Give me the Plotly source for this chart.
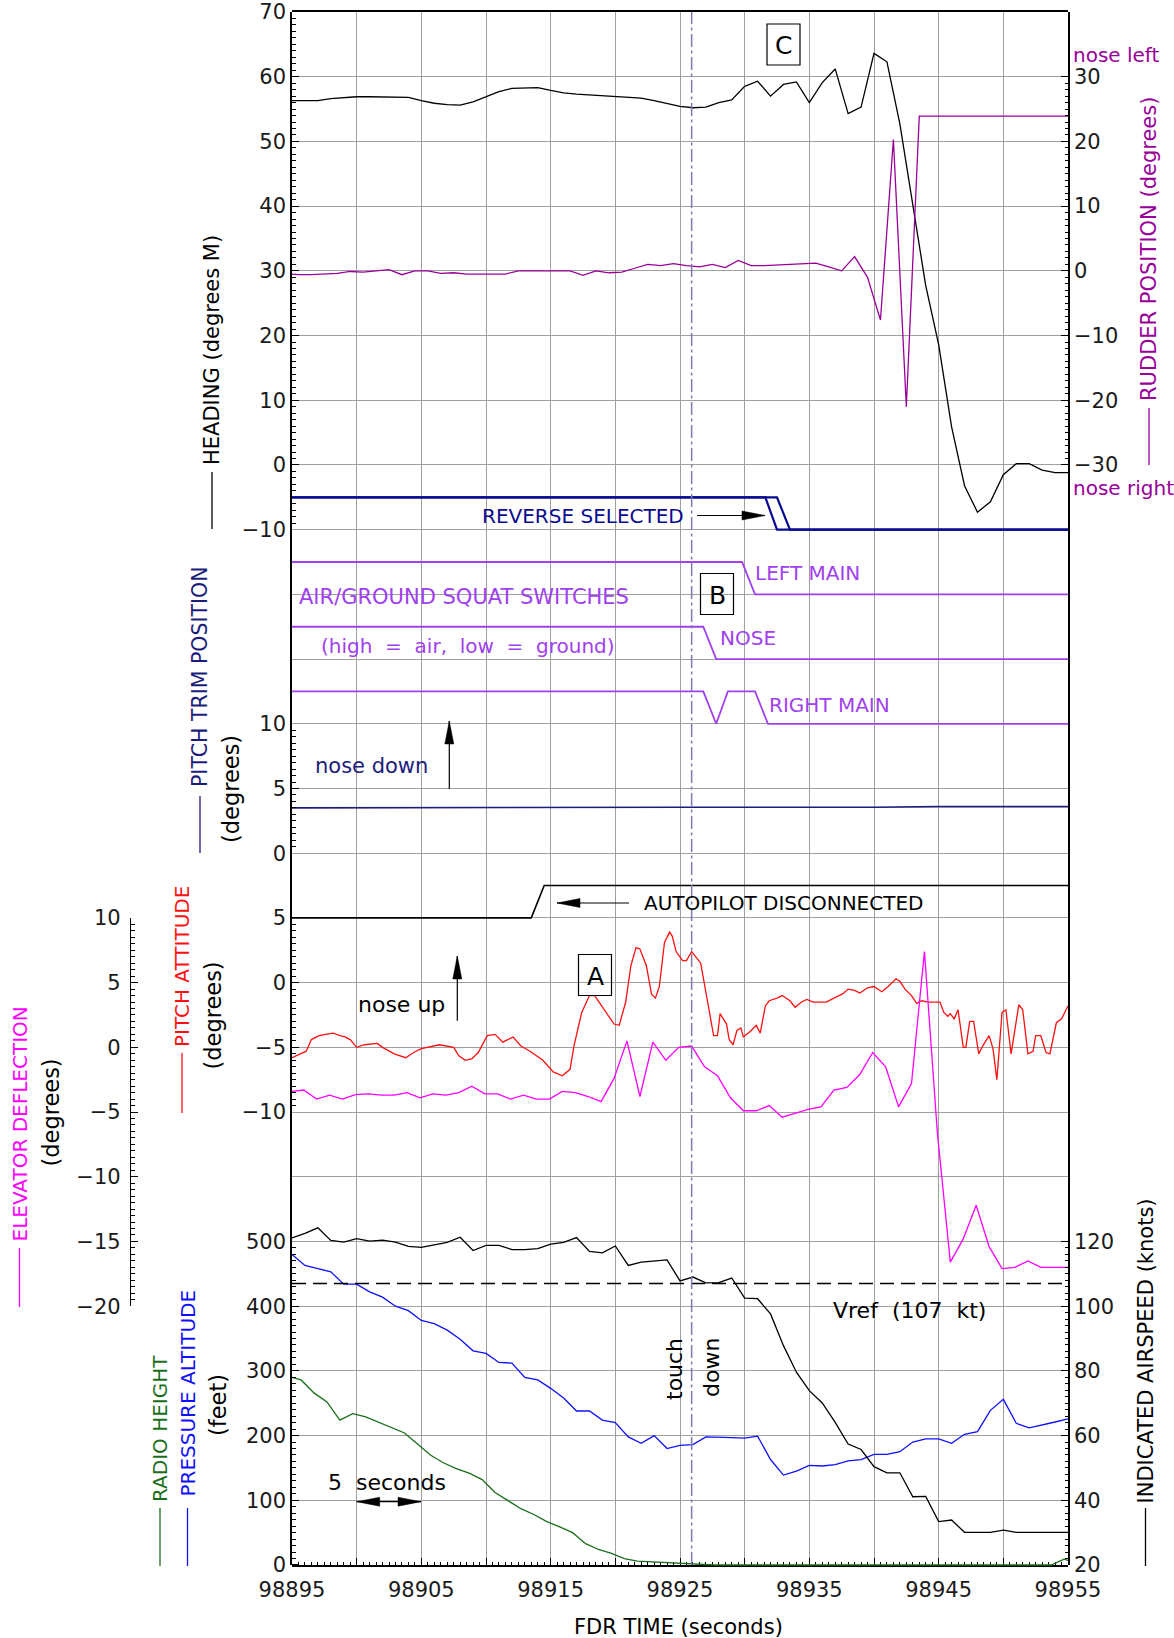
import math
import plotly.graph_objects as go

# ---------------- data ----------------
T_START, T_END = 98895, 98955
touchdown_t = 98925.9
vref_kt = 107

heading_t = [98895 + i for i in range(61)]
heading_deg = [56.3, 56.3, 56.3, 56.6, 56.8, 56.9, 56.9, 56.9, 56.8, 56.8,
               56.3, 55.9, 55.7, 55.6, 56.1, 56.9, 57.7, 58.2, 58.3, 58.3,
               57.9, 57.5, 57.3, 57.2, 57.0, 56.9, 56.8, 56.7, 56.3, 55.8,
               55.4, 55.2, 55.3, 56.0, 56.4, 58.5, 59.3, 57.0, 58.8, 59.2,
               56.0, 59.1, 61.2, 54.3, 55.3, 63.6, 62.3, 52.7, 39.9, 27.7,
               18.6, 5.9, -3.2, -7.3, -5.7, -1.5, 0.2, 0.2, -0.8, -1.2, -1.2]

rudder_t = [98895] + [98895.5 + i for i in range(60)] + [98955]
rudder_deg = [-0.5,
              -0.6, -0.6, -0.5, -0.4, -0.1, -0.2, 0.0, 0.2, -0.6, 0.0,
              0.0, -0.4, -0.3, -0.5, -0.5, -0.5, -0.5, 0.0, 0.0, 0.0,
              0.0, 0.0, -0.7, 0.0, -0.3, -0.2, 0.4, 1.0, 0.8, 1.1,
              0.8, 0.6, 1.0, 0.5, 1.6, 0.8, 0.8, 0.9, 0.9, 1.1,
              1.2, 0.6, 0.0, 2.2, -1.0, -7.6, 20.3, -21.0, 23.9, 23.9,
              23.9, 23.9, 23.9, 23.9, 23.9, 23.9, 23.9, 23.9, 23.9, 23.9,
              23.9]

# discrete states: 1 = high, 0 = low
reverse1_t = [98895, 98931.6, 98932.5, 98955]
reverse1_state = [1, 1, 0, 0]
reverse2_t = [98895, 98932.5, 98933.5, 98955]
reverse2_state = [1, 1, 0, 0]

left_main_t = [98895, 98929.8, 98930.8, 98955]
left_main_state = [1, 1, 0, 0]
nose_gear_t = [98895, 98926.8, 98927.8, 98955]
nose_gear_state = [1, 1, 0, 0]
right_main_t = [98895, 98926.8, 98927.8, 98928.7, 98930.8, 98931.8, 98955]
right_main_state = [1, 1, 0, 1, 1, 0, 0]

trim_t = [98895, 98910, 98925, 98940, 98945, 98955]
trim_deg = [3.5, 3.55, 3.55, 3.55, 3.6, 3.6]

autopilot_t = [98895, 98913.5, 98914.5, 98955]
autopilot_state = [0, 0, 1, 1]

pitch_t = [98895.0, 98895.5, 98896.1, 98896.5, 98897.1, 98897.6, 98898.2, 98898.7,
           98899.1, 98899.5, 98900.0, 98900.6, 98901.6, 98902.0, 98902.9, 98903.8,
           98904.4, 98905.0, 98906.4, 98907.5, 98907.9, 98908.4, 98908.9, 98909.4,
           98910.1, 98910.7, 98911.3, 98912.1, 98912.7, 98913.4, 98914.4, 98915.2,
           98915.9, 98916.5, 98916.8, 98917.4, 98918.0, 98918.4, 98918.9, 98919.3,
           98919.9, 98920.3, 98920.8, 98921.2, 98921.6, 98921.9, 98922.4, 98922.8,
           98923.1, 98923.4, 98923.8, 98924.2, 98924.4, 98924.7, 98925.2, 98925.5,
           98925.9, 98926.3, 98926.6, 98927.1, 98927.6, 98927.9, 98928.1, 98928.6,
           98928.8, 98929.1, 98929.4, 98929.7, 98929.9, 98930.4, 98930.9, 98931.2,
           98931.6, 98931.9, 98932.5, 98932.9, 98933.5, 98933.9, 98934.4, 98934.8,
           98935.3, 98936.3, 98936.7, 98937.3, 98937.6, 98938.0, 98938.5, 98938.9,
           98939.5, 98940.0, 98940.6, 98941.1, 98941.7, 98942.0, 98942.4, 98942.9,
           98943.3, 98943.7, 98944.2, 98944.6, 98945.1, 98945.4, 98945.7, 98945.9,
           98946.2, 98946.5, 98946.9, 98947.1, 98947.4, 98947.7, 98948.1, 98948.4,
           98948.9, 98949.2, 98949.5, 98949.9, 98950.2, 98950.6, 98950.9, 98951.2,
           98951.5, 98951.9, 98952.3, 98952.5, 98952.9, 98953.3, 98953.6, 98954.1,
           98954.5, 98955.0]
pitch_deg = [-5.8, -5.6, -5.3, -4.4, -4.1, -4.0, -3.9, -4.1,
             -4.2, -4.4, -5.0, -4.8, -4.7, -5.0, -5.5, -5.8,
             -5.4, -5.1, -4.8, -5.0, -5.65, -6.0, -5.9, -5.4,
             -4.1, -4.0, -4.6, -4.2, -4.9, -5.3, -6.0, -6.9,
             -7.2, -6.7, -4.9, -2.3, -1.0, -1.0, -1.75, -2.4,
             -3.2, -3.3, -1.5, 1.3, 2.7, 2.6, 1.3, -0.9,
             -1.2, -0.3, 3.1, 3.9, 3.6, 2.4, 1.7, 1.7,
             2.4, 1.9, 1.5, -1.3, -4.1, -4.1, -2.4, -3.2,
             -4.4, -4.8, -3.7, -3.5, -4.2, -3.8, -3.3, -3.9,
             -1.8, -1.4, -1.2, -1.0, -1.4, -1.9, -1.5, -1.3,
             -1.5, -1.5, -1.3, -1.0, -0.85, -0.5, -0.6, -0.8,
             -0.4, -0.3, -0.7, -0.3, 0.3, 0.1, -0.5, -1.0,
             -1.6, -1.4, -1.5, -1.5, -1.5, -2.3, -2.6, -2.4,
             -2.8, -2.1, -5.0, -5.0, -3.0, -3.0, -5.5, -4.9,
             -4.1, -5.1, -7.5, -2.3, -2.1, -5.5, -3.5, -1.7,
             -2.1, -5.5, -5.3, -4.1, -4.1, -5.4, -5.5, -3.1,
             -2.8, -1.8]

elev_t = [98895] + [98895.9 + i for i in range(60)] + [98955]
elev_deg = [-3.4,
            -3.3, -4.0, -3.7, -4.0, -3.65, -3.6, -3.7, -3.7, -3.5, -3.9,
            -3.6, -3.7, -3.5, -3.0, -3.6, -3.6, -4.0, -3.7, -4.0, -4.0,
            -3.4, -3.5, -3.8, -4.2, -2.4, 0.5, -3.8, 0.4, -1.0, 0.0,
            0.1, -1.5, -2.2, -3.9, -4.9, -4.9, -4.5, -5.4, -5.1, -4.8,
            -4.6, -3.3, -3.1, -2.1, -0.4, -1.5, -4.6, -2.8, 7.4, -6.6,
            -16.6, -14.8, -12.2, -15.4, -17.1, -17.0, -16.5, -17.0, -17.0, -17.0,
            -17.0]

ias_t = [98895 + i for i in range(61)]
ias_kt = [121.1, 122.5, 124.2, 120.3, 119.8, 120.9, 120.1, 120.4, 119.8, 118.5,
          118.2, 119.0, 119.7, 121.3, 117.2, 118.8, 118.8, 117.5, 117.5, 117.8,
          119.2, 119.7, 121.2, 116.9, 116.5, 118.6, 112.6, 113.6, 114.0, 114.3,
          107.8, 109.0, 107.2, 107.3, 108.7, 102.5, 102.3, 97.6, 87.8, 79.6,
          73.9, 70.1, 64.1, 57.4, 55.7, 50.4, 48.5, 48.5, 41.1, 41.2,
          33.4, 33.9, 30.1, 30.1, 30.1, 30.8, 30.1, 30.1, 30.1, 30.1,
          30.1]

palt_t = [98895 + i for i in range(61)]
palt_ft = [480, 463, 458, 453, 434, 434, 422, 414, 400, 393,
           378, 373, 363, 349, 331, 327, 313, 312, 290, 286,
           273, 258, 238, 238, 224, 220, 198, 188, 200, 180,
           185, 186, 198, 198, 197, 196, 199, 163, 139, 145,
           154, 153, 155, 161, 163, 171, 171, 175, 190, 195,
           195, 188, 202, 206, 239, 256, 219, 212, 216, 221,
           226]

rh_t = [98895] + [98895.7 + i for i in range(60)] + [98955]
rh_ft = [290,
         286, 266, 252, 224, 234, 229, 221, 213, 204, 187,
         170, 158, 149, 142, 132, 112, 99, 87, 78, 67,
         59, 50, 33, 24, 18, 10, 6, 5, 4, 3,
         1, 0, 0, 0, 0, 0, 0, 0, 0, 0,
         0, 0, 0, 0, 0, 0, 0, 0, 0, 0,
         0, 0, 0, 0, 0, 0, 0, 0, 0, 9,
         7]

x_tick_vals = [98895 + 5 * i for i in range(13)]
x_tick_text = [str(v) if i % 2 == 0 else '' for i, v in enumerate(x_tick_vals)]

# ---------------- geometry helpers ----------------
W, H = 1174, 1638
PX_L, PX_R = 292, 1068
PY_TOP, PY_BOT = 12, 1565
GU = (PY_BOT - PY_TOP) / 24.0
FONT = 'DejaVu Sans'
TF = dict(family=FONT, size=21, color='#1a1a1a')
NB = '\u00a0'


def xp(px):
    return px / W


def yp(py):
    return 1 - py / H


def gy(g):
    return yp(PY_BOT - GU * g)


XD = [xp(PX_L), xp(PX_R)]

NAVY = '#0a0a90'
TRIM = '#1c1c7c'
VIOLET = '#a040f0'
PURPLE = '#990099'
RED = '#ff1010'
MAGENTA = '#ff00ff'
BLUE = '#1010ff'
GREEN = '#1a6e1a'
GRID = '#a0a0a0'


def yaxis(g0, g1, rng, side='left', tv=None, mv=None, visible=True, **kw):
    d = dict(domain=[gy(g0), gy(g1)], range=rng, anchor='x2', side=side,
             showgrid=False, zeroline=False, showline=False, fixedrange=True,
             automargin=False)
    if not visible:
        d['visible'] = False
        return d
    d.update(tickmode='array', tickvals=tv if tv else [], ticks='inside',
             ticklen=7, tickwidth=1.3, tickcolor='black', tickfont=TF,
             showticklabels=bool(tv), ticklabelstandoff=5)
    if mv is not None:
        d['minor'] = dict(tickmode='array', tickvals=mv, ticks='inside',
                          ticklen=3.5, tickwidth=1, tickcolor='black', showgrid=False)
    d.update(kw)
    return d


def minor_vals(lo, hi, step, major):
    n = int(round((hi - lo) / step))
    out = []
    for i in range(n + 1):
        v = round(lo + i * step, 3)
        if abs(v / major - round(v / major)) > 1e-6:
            out.append(v)
    return out


fig = go.Figure()

# invisible trace that keeps the base (grid / frame) subplot alive
fig.add_trace(go.Scatter(x=[T_START, T_END], y=[0, 24], xaxis='x', yaxis='y',
                         mode='markers', marker=dict(opacity=0, size=1), hoverinfo='skip'))


def line(xs, ys, yax, color, width=1.3, dash=None):
    fig.add_trace(go.Scatter(x=xs, y=ys, xaxis='x2', yaxis=yax, mode='lines',
                             line=dict(color=color, width=width, dash=dash),
                             hoverinfo='skip'))


line(heading_t, heading_deg, 'y2', 'black')
line(rudder_t, rudder_deg, 'y3', PURPLE)
line(reverse1_t, reverse1_state, 'y4', NAVY, 2.2)
line(reverse2_t, reverse2_state, 'y4', NAVY, 2.2)
line(left_main_t, left_main_state, 'y5', VIOLET, 1.8)
line(nose_gear_t, nose_gear_state, 'y6', VIOLET, 1.8)
line(right_main_t, right_main_state, 'y7', VIOLET, 1.8)
line(trim_t, trim_deg, 'y9', TRIM, 1.6)
line(autopilot_t, autopilot_state, 'y10', 'black', 1.6)
line(pitch_t, pitch_deg, 'y12', RED)
line(elev_t, elev_deg, 'y13', MAGENTA)
line([T_START, T_END], [vref_kt, vref_kt], 'y15', 'black', 1.3, '14px,7px')
line(ias_t, ias_kt, 'y15', 'black')
line(palt_t, palt_ft, 'y14', BLUE)
line(rh_t, rh_ft, 'y14', GREEN)

layout = dict(
    width=W, height=H, margin=dict(l=0, r=0, t=0, b=0, autoexpand=False),
    paper_bgcolor='white', plot_bgcolor='rgba(0,0,0,0)', showlegend=False,
    font=dict(family=FONT, size=20, color='black'),
    xaxis=dict(domain=XD, range=[T_START, T_END], anchor='y', showgrid=True,
               tickmode='linear', tick0=T_START, dtick=5, gridcolor=GRID, gridwidth=1.4,
               showticklabels=False, ticks='', zeroline=False, showline=False,
               fixedrange=True, automargin=False),
    yaxis=dict(domain=[gy(0), gy(24)], range=[0, 24], anchor='x', showgrid=True,
               tickmode='linear', tick0=0, dtick=1, gridcolor=GRID, gridwidth=1.4,
               showticklabels=False, ticks='', zeroline=False, showline=True, mirror=True,
               linecolor='black', linewidth=1.6, fixedrange=True, automargin=False),
    xaxis2=dict(domain=XD, range=[T_START, T_END], anchor='y', showgrid=False, zeroline=False,
                showline=True, mirror=True, linecolor='black', linewidth=1.6,
                tickmode='array', tickvals=x_tick_vals, ticktext=x_tick_text,
                ticks='inside', ticklen=7, tickwidth=1.3, tickcolor='black', tickfont=TF,
                ticklabelstandoff=5, fixedrange=True, automargin=False,
                minor=dict(tickmode='linear', tick0=T_START, dtick=0.5, ticks='inside',
                           ticklen=3.5, tickwidth=1, tickcolor='black', showgrid=False)),
    yaxis2=yaxis(16, 24, [-10, 70], 'left', list(range(-10, 71, 10)), minor_vals(-10, 70, 1, 10)),
    yaxis3=yaxis(16, 24, [-40, 40], 'right', list(range(-30, 31, 10)), minor_vals(-30, 30, 1, 10)),
    yaxis4=yaxis(15.9, 16.6, [-0.2, 1.2], visible=False),
    yaxis5=yaxis(14.9, 15.6, [-0.2, 1.2], visible=False),
    yaxis6=yaxis(13.9, 14.6, [-0.2, 1.2], visible=False),
    yaxis7=yaxis(12.9, 13.6, [-0.2, 1.2], visible=False),
    yaxis8=yaxis(13, 16, [0, 30], 'right', None, minor_vals(0, 30, 1, 10)),
    yaxis9=yaxis(11, 13, [0, 10], 'left', [0, 5, 10], minor_vals(0, 10, 0.5, 5)),
    yaxis10=yaxis(9.9, 10.6, [-0.2, 1.2], visible=False),
    yaxis11=yaxis(10, 11, [0, 10], 'right', None, minor_vals(0, 10, 1, 10)),
    yaxis12=yaxis(7, 10, [-10, 5], 'left', [-10, -5, 0, 5], minor_vals(-10, 5, 0.5, 5)),
    yaxis13=yaxis(4, 10, [-20, 10], 'left', list(range(-20, 11, 5)), minor_vals(-20, 10, 0.5, 5),
                  anchor='free', position=xp(130), showline=True, linecolor='black', linewidth=1.3),
    yaxis14=yaxis(-0.1, 5, [-10, 500], 'left', list(range(0, 501, 100)), minor_vals(0, 500, 10, 100)),
    yaxis15=yaxis(0, 5.4, [20, 128], 'right', list(range(20, 121, 20)), minor_vals(20, 120, 2, 20)),
)
fig.update_layout(**layout)

# ---------------- annotations ----------------
ann = []


def txt(px, py, s, color='black', size=20, angle=0, xanchor='center'):
    ann.append(dict(x=xp(px), y=yp(py), xref='paper', yref='paper', text=s,
                    showarrow=False, font=dict(family=FONT, size=size, color=color),
                    textangle=angle, xanchor=xanchor, yanchor='middle'))


txt(582.5, 516, 'REVERSE SELECTED', NAVY)
txt(464, 597, 'AIR/GROUND SQUAT SWITCHES', VIOLET, 21)
txt(467.5, 646, f'(high{NB}{NB}={NB}{NB}air,{NB}{NB}low{NB}{NB}={NB}{NB}ground)', VIOLET)
txt(807, 573, 'LEFT MAIN', VIOLET)
txt(748, 638, 'NOSE', VIOLET)
txt(829, 705, 'RIGHT MAIN', VIOLET)
txt(371, 766, 'nose down', TRIM, 21)
txt(783, 903, 'AUTOPILOT DISCONNECTED')
txt(401.5, 1004, 'nose up', 'black', 22)
txt(909, 1310, f'Vref{NB}{NB}(107{NB}{NB}kt)', 'black', 22)
txt(674, 1369, 'touch', 'black', 22, angle=-90)
txt(711, 1368, 'down', 'black', 22, angle=-90)
txt(387, 1482, f'5{NB}{NB}seconds', 'black', 22)
txt(1071, 55, 'nose left', PURPLE, 20, xanchor='left')
txt(1071, 488, 'nose right', PURPLE, 20, xanchor='left')
txt(679, 1627, 'FDR TIME (seconds)', 'black', 21)

txt(212, 350, 'HEADING (degrees M)', 'black', 21, angle=-90)
txt(1149, 249, 'RUDDER POSITION (degrees)', PURPLE, 21, angle=-90)
txt(200, 677, 'PITCH TRIM POSITION', TRIM, 20.5, angle=-90)
txt(231, 789, '(degrees)', 'black', 22.5, angle=-90)
txt(19.5, 1124, 'ELEVATOR DEFLECTION', MAGENTA, 20, angle=-90)
txt(50.5, 1113, '(degrees)', 'black', 22.5, angle=-90)
txt(182, 967, 'PITCH ATTITUDE', RED, 20, angle=-90)
txt(212.5, 1016, '(degrees)', 'black', 22.5, angle=-90)
txt(160, 1429, 'RADIO HEIGHT', GREEN, 20, angle=-90)
txt(187.5, 1393, 'PRESSURE ALTITUDE', BLUE, 20, angle=-90)
txt(218, 1405, '(feet)', 'black', 22.5, angle=-90)
txt(1145.5, 1351, 'INDICATED AIRSPEED (knots)', 'black', 21, angle=-90)

boxes = [('A', 595, 975), ('B', 717, 594), ('C', 783.5, 44.5)]
shapes = []
for lbl, cx, cy in boxes:
    shapes.append(dict(type='rect', xref='paper', yref='paper',
                       x0=xp(cx - 16.5), x1=xp(cx + 16.5), y0=yp(cy + 20.5), y1=yp(cy - 20.5),
                       line=dict(color='black', width=1.2)))
    txt(cx, cy + 1, lbl, 'black', size=25)

# legend dashes next to axis titles
for x, y0, y1, c in [(212, 472, 529, 'black'), (1149, 408, 465, PURPLE), (200, 796, 853, TRIM),
                     (19.5, 1248, 1307, MAGENTA), (182, 1053, 1113, RED), (160, 1508, 1566, GREEN),
                     (187.5, 1508, 1566, BLUE), (1145.5, 1508, 1566, 'black')]:
    shapes.append(dict(type='line', xref='paper', yref='paper', x0=xp(x), x1=xp(x),
                       y0=yp(y0), y1=yp(y1), line=dict(color=c, width=1.3)))


def arrow_shapes(tail, head, both=False, hl=23, hw=4.5, color='black'):
    (tx, ty), (hx, hy) = tail, head
    dx, dy = hx - tx, hy - ty
    L = math.hypot(dx, dy)
    ux, uy = dx / L, dy / L
    nx, ny = -uy, ux
    out = [dict(type='line', xref='paper', yref='paper', x0=xp(tx), y0=yp(ty),
                x1=xp(hx), y1=yp(hy), line=dict(color=color, width=1.2))]

    def tri(px, py, sx, sy):
        bx, by = px - hl * sx, py - hl * sy
        pts = [(px, py), (bx + hw * nx, by + hw * ny), (bx - hw * nx, by - hw * ny)]
        path = 'M ' + ' L '.join(f'{xp(a):.6f},{yp(b):.6f}' for a, b in pts) + ' Z'
        return dict(type='path', path=path, xref='paper', yref='paper',
                    fillcolor=color, line=dict(color=color, width=0.5))
    out.append(tri(hx, hy, ux, uy))
    if both:
        out.append(tri(tx, ty, -ux, -uy))
    return out


shapes += arrow_shapes((697, 515.5), (765, 515.5))
shapes += arrow_shapes((629, 903), (557, 903))
shapes += arrow_shapes((449.3, 789), (449.3, 721))
shapes += arrow_shapes((457.3, 1020.7), (457.3, 956))
shapes += arrow_shapes((356.7, 1501.7), (421, 1501.7), both=True)

# touchdown marker
shapes.append(dict(type='line', xref='x2', yref='paper', x0=touchdown_t, x1=touchdown_t,
                   y0=gy(0), y1=gy(24), line=dict(color='#7c7ab4', width=1.5,
                                                   dash='13px,3.5px,3px,3.5px')))

fig.update_layout(annotations=ann, shapes=shapes)

fig.write_html("out.html", config={'displayModeBar': False},
               post_script="document.body.style.margin='0';document.body.style.overflow='hidden';")
